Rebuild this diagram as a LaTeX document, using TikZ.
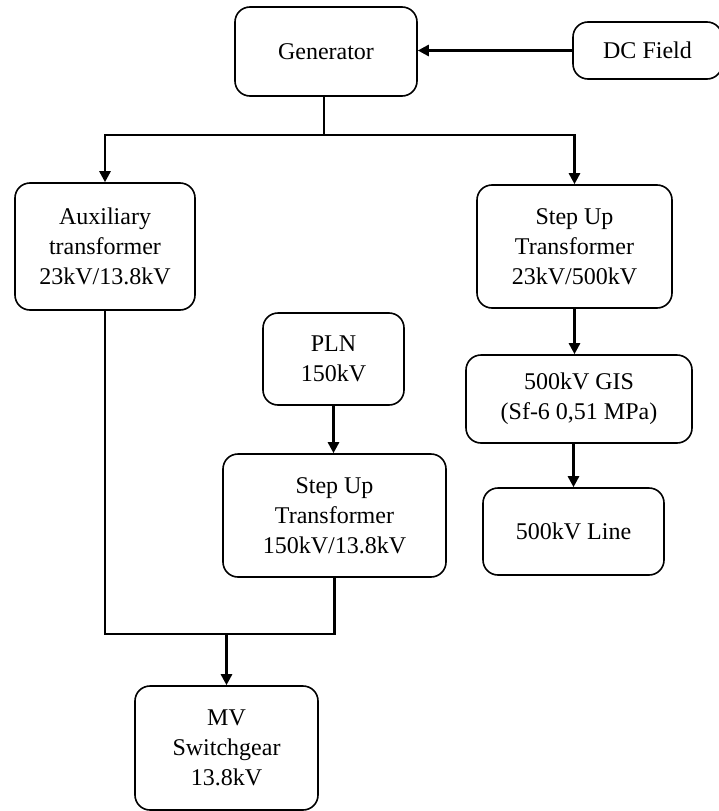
\documentclass[tikz,border=0pt]{standalone}
\usepackage{fontspec}
\setmainfont{Liberation Serif}
\usepackage{tikz}
\usetikzlibrary{arrows.meta,positioning,calc}
\tikzset{
  unit/.style={rounded corners=15pt, draw=black, line width=1.6pt,
    fill=white, align=center, inner sep=0pt,
    font=\fontsize{24}{30}\selectfont},
  wire/.style={line width=2.6pt, draw=black},
  feed/.style={wire, -{Triangle[length=11pt,width=11pt]}},
}

\begin{document}
\begin{tikzpicture}[x=1pt,y=-1pt]
\useasboundingbox (0,0) rectangle (718,811);
\node[unit, minimum width=182pt, minimum height=89pt] (gen) at (326,51.5) {Generator};
\node[unit, minimum width=149pt, minimum height=57pt] (dcf) at (647.5,50.5) {DC Field};
\node[unit, minimum width=180pt, minimum height=127pt] (aux) at (105,246.5) {Auxiliary\\transformer\\23kV/13.8kV};
\node[unit, minimum width=195pt, minimum height=123pt] (suhv) at (574.5,246.5) {Step Up\\Transformer\\23kV/500kV};
\node[unit, minimum width=141pt, minimum height=92pt] (pln) at (333.5,359) {PLN\\150kV};
\node[unit, minimum width=226pt, minimum height=88pt] (gis) at (579,399) {500kV GIS\\(Sf-6 0,51 MPa)};
\node[unit, minimum width=223pt, minimum height=123pt] (sumv) at (334.5,515.5) {Step Up\\Transformer\\150kV/13.8kV};
\node[unit, minimum width=181pt, minimum height=87pt] (line) at (573.5,531.5) {500kV Line};
\node[unit, minimum width=183pt, minimum height=124pt] (mvs) at (226.5,748) {MV\\Switchgear\\13.8kV};

% bus junctions
\coordinate (busT) at (324,135);
\coordinate (busB) at (226.5,634);

\draw[feed] (dcf.west) -- (dcf.west -| gen.east);
\draw[wire] (gen.south -| busT) -- (busT);
\draw[feed] (busT) -| (aux.north);
\draw[feed] (busT) -| (suhv.north);
\draw[feed] (suhv.south) -- (suhv.south |- gis.north);
\draw[feed] (line.north |- gis.south) -- (line.north);
\draw[feed] (pln.south) -- (pln.south |- sumv.north);
\draw[wire] (aux.south) -- (aux.south |- busB) -- (sumv.south |- busB) -- (sumv.south);
\draw[feed] (busB) -- (mvs.north);
\end{tikzpicture}
\end{document}
